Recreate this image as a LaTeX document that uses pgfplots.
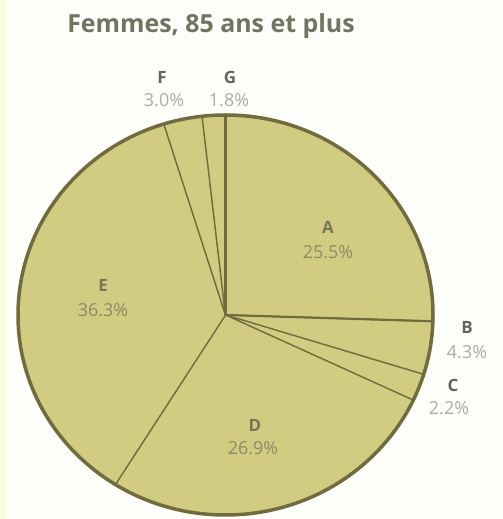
\documentclass[border=0pt]{standalone}
\usepackage{pgfplots}
\pgfplotsset{compat=1.18}
\usepackage{pgfplotstable}
\usepackage{fontspec}
\setmainfont{Open Sans}
\definecolor{bg}{RGB}{253,253,249}
\definecolor{bgstrip}{RGB}{250,250,222}
\definecolor{piefill}{RGB}{209,204,130}
\definecolor{pieedge}{RGB}{112,108,62}
\definecolor{titlecol}{RGB}{112,116,96}
\definecolor{inlet}{RGB}{118,118,88}
\definecolor{inpct}{RGB}{140,140,100}
\definecolor{outlet}{RGB}{100,100,96}
\definecolor{outpct}{RGB}{172,172,166}

% pie shares (%), in clockwise order from 12 o'clock
\pgfplotstableread{
name pct
A 25.5
B 4.3
C 2.2
D 26.9
E 36.3
F 3.0
G 1.8
}\piedata

\begin{document}
\begin{tikzpicture}
\begin{axis}[hide axis, scale only axis, width=503bp, height=519bp,
  xmin=0, xmax=503, ymin=0, ymax=519, clip=false]
\coordinate (bl) at (axis cs:0,0);
\coordinate (tr) at (axis cs:503,519);
\fill[bg] (axis cs:0,0) rectangle (axis cs:503,519);
\fill[bgstrip] (axis cs:0,0) rectangle (axis cs:7,519);
\def\startang{90}
\pgfplotsforeachungrouped \i in {0,...,6}{%
  \pgfplotstablegetelem{\i}{pct}\of\piedata
  \pgfmathsetmacro\endang{\startang-3.6*\pgfplotsretval}%
  \edef\cmd{\noexpand\filldraw[fill=piefill, draw=pieedge, line width=1.3bp]
    (axis cs:225.5,204) -- ++(\startang:207.5bp and 200bp)
    arc[start angle=\startang, end angle=\endang, x radius=207.5bp, y radius=200bp] -- cycle;}%
  \cmd
  \global\let\startang\endang
}
\pgfplotstablegetelem{0}{pct}\of\piedata
\pgfmathsetmacro\abang{90-3.6*\pgfplotsretval}
\draw[pieedge, line width=2.2bp] (axis cs:225.5,204) -- ++(\abang:207.5bp and 200bp);
\draw[pieedge, line width=3bp] (axis cs:225.5,204) -- ++(90:207.5bp and 200bp);
\draw[pieedge, line width=3.5bp] (axis cs:225.5,204) ellipse [x radius=207.5bp, y radius=200bp];

\node[anchor=base, text=titlecol, font=\fontsize{25}{29}\selectfont\bfseries] at (axis cs:211,486) {Femmes, 85 ans et plus};

\tikzset{lt/.style={font=\fontsize{17}{20}\selectfont\bfseries, inner sep=0pt},
         pc/.style={font=\fontsize{18}{21}\selectfont, inner sep=0pt}}
\node[lt, text=inlet] at (axis cs:328,292) {A};
\node[pc, text=inpct] at (axis cs:328,267) {25.5\%};
\node[lt, text=outlet] at (axis cs:467,192) {B};
\node[pc, text=outpct] at (axis cs:467,167) {4.3\%};
\node[lt, text=outlet] at (axis cs:453,134) {C};
\node[pc, text=outpct] at (axis cs:449,111) {2.2\%};
\node[lt, text=inlet] at (axis cs:255,94) {D};
\node[pc, text=inpct] at (axis cs:253,71) {26.9\%};
\node[lt, text=inlet] at (axis cs:103,234) {E};
\node[pc, text=inpct] at (axis cs:103,209) {36.3\%};
\node[lt, text=outlet] at (axis cs:162,442) {F};
\node[pc, text=outpct] at (axis cs:164,419) {3.0\%};
\node[lt, text=outlet] at (axis cs:230,442) {G};
\node[pc, text=outpct] at (axis cs:229,419) {1.8\%};
\end{axis}
\pgfresetboundingbox
\path[use as bounding box] (bl) rectangle (tr);
\end{tikzpicture}
\end{document}
